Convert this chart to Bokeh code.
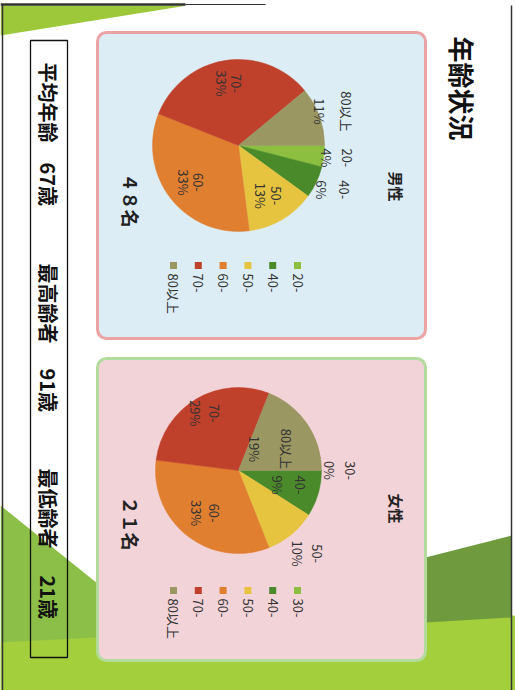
import numpy as np
from bokeh.plotting import figure
from bokeh.models import Range1d, BoxAnnotation, ColumnDataSource
from bokeh.core.properties import value
from bokeh.embed import file_html
from bokeh.resources import INLINE

# ---------------- data ----------------
title_text = "年齢状況"
male_title = "男性"
female_title = "女性"
male_categories = ["20-", "40-", "50-", "60-", "70-", "80以上"]
male_pct = [4, 6, 13, 33, 33, 11]
male_total = "４８名"
female_categories = ["30-", "40-", "50-", "60-", "70-", "80以上"]
female_pct = [0, 9, 10, 33, 29, 19]
female_total = "２１名"
stat_labels = ["平均年齢", "最高齢者", "最低齢者"]
stat_values = ["67歳", "91歳", "21歳"]

# ---------------- styles / layout ----------------
slice_colors = ["#8CBF3F", "#4A8A2A", "#E6C440", "#E07F30", "#C0412B", "#9A9762"]
FONT = value("Noto Sans CJK JP")
W, H = 515, 690
ROT = -np.pi / 2


def Y(y):
    return H - np.asarray(y, dtype=float)


p = figure(width=W, height=H, x_range=Range1d(0, W), y_range=Range1d(0, H),
           output_backend="svg", toolbar_location=None, min_border=0)
p.axis.visible = False
p.grid.visible = False
p.outline_line_color = None
p.background_fill_color = "white"
p.border_fill_color = "white"

# background decorations (slide artwork)
bg_shapes = [
    ([0, 187, 0], [5, 5, 35], "#9CC83A"),
    ([0, 97, 97, 0], [505, 583, 690, 690], "#8CBF48"),
    ([0, 515, 515, 0], [642, 615, 690, 690], "#A3CF3C"),
    ([425, 511, 511, 425], [557, 535, 617, 622], "#6F9B3E"),
]
for xs, ys, c in bg_shapes:
    r = p.patch(x=xs, y=Y(ys), fill_color=c, line_color=None)
    r.level = "image"
for xs, ys, lw in [([0, 185], [4, 4], 2.5), ([185, 265], [4, 4], 1.2),
                   ([2, 2], [4, 690], 1.5), ([511, 511], [5, 690], 1.5)]:
    r = p.line(x=xs, y=Y(ys), line_color="#333333", line_width=lw)
    r.level = "image"

# panels
p.add_layout(BoxAnnotation(left=97, right=425, bottom=float(Y(338)), top=float(Y(32)),
                           fill_color="#DCEDF6", fill_alpha=1, line_color="#EBA3A3",
                           line_width=3, line_alpha=1, border_radius=9, level="underlay"))
p.add_layout(BoxAnnotation(left=97, right=425, bottom=float(Y(660)), top=float(Y(358)),
                           fill_color="#F2D3D8", fill_alpha=1, line_color="#B3DB9C",
                           line_width=3, line_alpha=1, border_radius=9, level="underlay"))

# title
p.text(x=[462], y=Y([88]), text=[title_text], angle=ROT, text_align="center",
       text_baseline="middle", text_font=FONT, text_font_size="26px",
       text_font_style="bold", text_color="#111111")


def draw_pie(cx, cy, r, cats, pct, rf, gaps, head, head_y, total, total_y):
    frac = np.array(pct, dtype=float) / float(sum(pct))
    cum = np.concatenate([[0.0], np.cumsum(frac)])
    a0 = cum[:-1] * 2 * np.pi
    a1 = cum[1:] * 2 * np.pi
    keep = frac > 0
    src = ColumnDataSource(dict(start=list(-a1[keep]), end=list(-a0[keep]),
                                color=[c for c, k in zip(slice_colors, keep) if k]))
    p.wedge(x=cx, y=float(Y(cy)), radius=r, start_angle="start", end_angle="end",
            fill_color="color", line_color="color", line_width=0.5, source=src)
    mid = (a0 + a1) / 2
    lx = cx + np.array(rf) * r * np.cos(mid)
    ly = cy + np.array(rf) * r * np.sin(mid)
    g = np.array(gaps, dtype=float)
    p.text(x=list(lx + g / 2), y=list(Y(ly)), text=cats, angle=ROT, text_align="center",
           text_baseline="middle", text_font=FONT, text_font_size="13px", text_color="#333333")
    p.text(x=list(lx - g / 2), y=list(Y(ly)), text=[f"{v}%" for v in pct], angle=ROT,
           text_align="center", text_baseline="middle", text_font=FONT,
           text_font_size="13px", text_color="#333333")
    # legend
    n = len(cats)
    legx = [cx + 59 - i * 24.8 for i in range(n)]
    p.scatter(x=legx, y=list(Y([cy + 120] * n)), marker="square", size=7,
              fill_color=slice_colors, line_color=None)
    p.text(x=legx, y=list(Y([cy + 128] * n)), text=cats, angle=ROT, text_align="left",
           text_baseline="middle", text_font=FONT, text_font_size="13px", text_color="#333333")
    # headings
    p.text(x=[396], y=Y([head_y]), text=[head], angle=ROT, text_align="center",
           text_baseline="middle", text_font=FONT, text_font_size="15px",
           text_font_style="bold", text_color="#222222")
    p.text(x=[130], y=Y([total_y]), text=[total], angle=ROT, text_align="center",
           text_baseline="middle", text_font=FONT, text_font_size="18px",
           text_font_style="bold", text_color="#222222")


draw_pie(238, 145, 86, male_categories, male_pct,
         [1.15, 1.21, 0.68, 0.70, 0.73, 1.17], [21, 23, 15, 15, 15, 27],
         male_title, 186, male_total, 200)
draw_pie(238, 470, 83, female_categories, female_pct,
         [1.22, 0.63, 1.30, 0.65, 0.80, 0.46], [21, 22, 20, 17, 18, 32],
         female_title, 508, female_total, 523)

# stats box
p.quad(left=[30], right=[67], bottom=Y([657]), top=Y([40]), fill_alpha=0,
       line_color="#111111", line_width=1.3)
lab_y = [62, 263, 468]
val_y = [162, 368, 575]
p.text(x=[48] * 3, y=list(Y(lab_y)), text=stat_labels, angle=ROT, text_align="left",
       text_baseline="middle", text_font=FONT, text_font_size="20px",
       text_font_style="bold", text_color="#111111")
p.text(x=[48] * 3, y=list(Y(val_y)), text=stat_values, angle=ROT, text_align="left",
       text_baseline="middle", text_font=FONT, text_font_size="20px",
       text_font_style="bold", text_color="#111111")

open("out.html", "w").write(file_html(p, INLINE))
